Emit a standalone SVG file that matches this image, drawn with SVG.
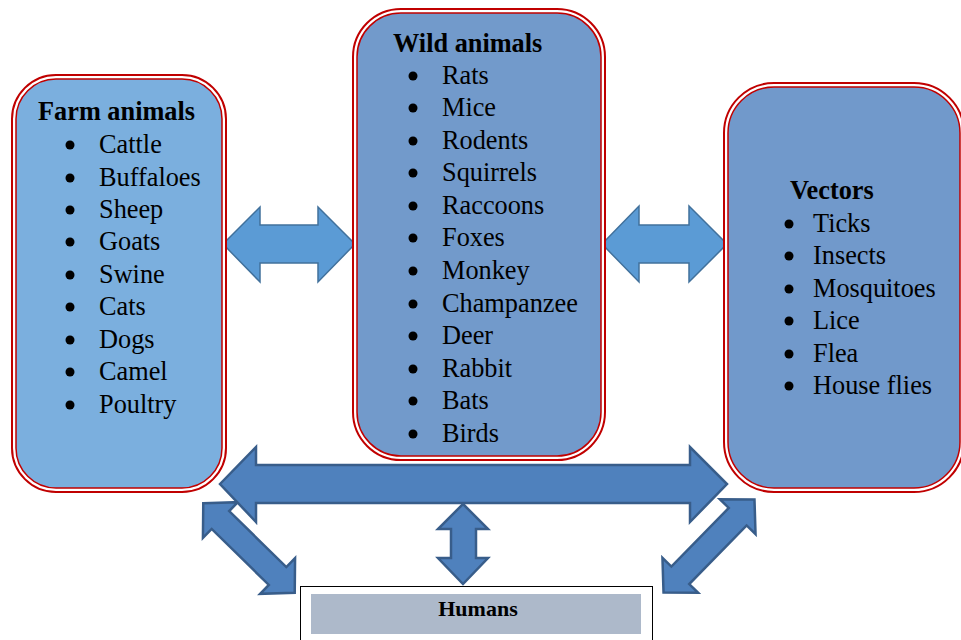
<svg xmlns="http://www.w3.org/2000/svg" width="961" height="640" viewBox="0 0 961 640">
<style>
.outer{fill:#fff;stroke:#c00000;stroke-width:2}
.inner{stroke:#c00000;stroke-width:1.5}
.t{font-family:"Liberation Serif","Times New Roman",serif;font-size:26.3px;fill:#000}
.h{font-family:"Liberation Serif","Times New Roman",serif;font-size:26.3px;font-weight:bold;fill:#000}
.b{fill:#000}
.sa{fill:#5b9bd5;stroke:#41719c;stroke-width:1.5;stroke-linejoin:miter}
.ba{fill:#4f81bd;stroke:#385d8a;stroke-width:2.5;stroke-linejoin:miter}
</style>
<g id="connectors">
<polygon class="sa" points="223,244 260,207 260,225 318,225 318,207 355,244 318,282 318,263 260,263 260,282"/>
<polygon class="sa" points="602,244 639,206 639,225 689,225 689,206 727,244 689,282 689,263 639,263 639,282"/>
<polygon class="ba" transform="translate(249,548) rotate(44.4)" points="-64,0 -40,-25 -40,-12.5 40,-12.5 40,-25 64,0 40,25 40,12.5 -40,12.5 -40,25"/>
<polygon class="ba" transform="translate(709,546) rotate(-45.6)" points="-65,0 -41,-25 -41,-12.5 41,-12.5 41,-25 65,0 41,25 41,12.5 -41,12.5 -41,25"/>
<polygon class="ba" points="220,484 256,447 256,465 690,465 690,447 727,484 690,522 690,503 256,503 256,522"/>
<polygon class="ba" points="463,504 488,529 476,529 476,558 488,558 463,584 438,558 451,558 451,529 438,529"/>
</g>
<g id="farm">
<rect class="outer" x="12" y="75" width="214" height="417" rx="44"/>
<rect class="inner" x="16" y="79" width="206" height="409" rx="40" fill="#7bafde"/>
<text class="h" x="38" y="120">Farm animals</text>
<g class="b"><circle cx="70" cy="145" r="4.5"/><circle cx="70" cy="178" r="4.5"/><circle cx="70" cy="210" r="4.5"/><circle cx="70" cy="242" r="4.5"/><circle cx="70" cy="275" r="4.5"/><circle cx="70" cy="307" r="4.5"/><circle cx="70" cy="340" r="4.5"/><circle cx="70" cy="372" r="4.5"/><circle cx="70" cy="405" r="4.5"/></g>
<text class="t" x="99" y="153">Cattle</text>
<text class="t" x="99" y="186">Buffaloes</text>
<text class="t" x="99" y="218">Sheep</text>
<text class="t" x="99" y="250">Goats</text>
<text class="t" x="99" y="283">Swine</text>
<text class="t" x="99" y="315">Cats</text>
<text class="t" x="99" y="348">Dogs</text>
<text class="t" x="99" y="380">Camel</text>
<text class="t" x="99" y="413">Poultry</text>
</g>
<g id="wild">
<rect class="outer" x="353" y="9" width="252" height="451" rx="48"/>
<rect class="inner" x="357" y="13" width="244" height="443" rx="44" fill="#729acb"/>
<text class="h" x="393" y="52">Wild animals</text>
<g class="b"><circle cx="413" cy="76" r="4.5"/><circle cx="413" cy="108" r="4.5"/><circle cx="413" cy="141" r="4.5"/><circle cx="413" cy="173" r="4.5"/><circle cx="413" cy="206" r="4.5"/><circle cx="413" cy="238" r="4.5"/><circle cx="413" cy="271" r="4.5"/><circle cx="413" cy="304" r="4.5"/><circle cx="413" cy="336" r="4.5"/><circle cx="413" cy="369" r="4.5"/><circle cx="413" cy="401" r="4.5"/><circle cx="413" cy="434" r="4.5"/></g>
<text class="t" x="442" y="84">Rats</text>
<text class="t" x="442" y="116">Mice</text>
<text class="t" x="442" y="149">Rodents</text>
<text class="t" x="442" y="181">Squirrels</text>
<text class="t" x="442" y="214">Raccoons</text>
<text class="t" x="442" y="246">Foxes</text>
<text class="t" x="442" y="279">Monkey</text>
<text class="t" x="442" y="312">Champanzee</text>
<text class="t" x="442" y="344">Deer</text>
<text class="t" x="442" y="377">Rabbit</text>
<text class="t" x="442" y="409">Bats</text>
<text class="t" x="442" y="442">Birds</text>
</g>
<g id="vectors">
<rect class="outer" x="724" y="83" width="240" height="409" rx="50"/>
<rect class="inner" x="728" y="87" width="232" height="401" rx="46" fill="#7199cb"/>
<text class="h" x="790" y="199">Vectors</text>
<g class="b"><circle cx="789" cy="224" r="4.5"/><circle cx="789" cy="256" r="4.5"/><circle cx="789" cy="289" r="4.5"/><circle cx="789" cy="321" r="4.5"/><circle cx="789" cy="354" r="4.5"/><circle cx="789" cy="386" r="4.5"/></g>
<text class="t" x="813" y="232">Ticks</text>
<text class="t" x="813" y="264">Insects</text>
<text class="t" x="813" y="297">Mosquitoes</text>
<text class="t" x="813" y="329">Lice</text>
<text class="t" x="813" y="362">Flea</text>
<text class="t" x="813" y="394">House flies</text>
</g>
<g id="humans">
<rect x="300.5" y="586.5" width="352" height="60" fill="#fff" stroke="#000" stroke-width="1"/>
<rect x="311" y="594" width="330" height="40" fill="#adb9ca"/>
<text x="478" y="616" text-anchor="middle" font-family="Liberation Serif,Times New Roman,serif" font-size="22" font-weight="bold">Humans</text>
</g>
</svg>
